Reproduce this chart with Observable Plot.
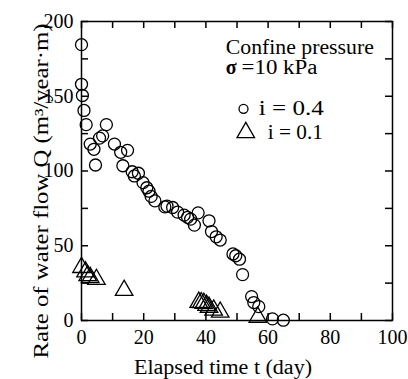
<!DOCTYPE html>
<html>
<head>
<meta charset="utf-8">
<script src="https://cdn.jsdelivr.net/npm/d3@7"></script>
<script src="https://cdn.jsdelivr.net/npm/@observablehq/plot@0.6"></script>
<style>
  html, body { margin: 0; padding: 0; background: white; }
</style>
</head>
<body>
<div id="chart"></div>
<script>
// i = 0.4 (circles)
const dayHigh = [0, 0, 0.3, 0.8, 1.5, 2.8, 4, 4.5, 5.8, 6.8, 8, 10.6, 12.6, 14.8, 13.3, 16.3, 17, 18.3, 19.8, 21, 21.7, 22.4, 23.6, 26.8, 27.5, 29.3, 30.9, 33, 34.1, 35.1, 36.3, 37.5, 41, 41.8, 43.3, 44.6, 48.7, 49.6, 50.8, 51.8, 54.7, 55.4, 57, 61.4, 64.9];
const flowHigh = [184.5, 158, 150.5, 140.5, 131, 118, 114.5, 104, 122, 123.5, 131, 118, 112.5, 113.8, 103.5, 99.5, 96.7, 98.5, 92.2, 88.8, 86.5, 83, 80, 76, 76.5, 75.6, 72.5, 70.5, 69, 67.8, 63.8, 72, 66.7, 59.5, 56, 53.8, 44.5, 43.3, 41, 30.7, 16, 12, 9.3, 1.1, 0.2];

// i = 0.1 (triangles)
const dayLow = [0, 1.3, 2, 2.8, 4.8, 13.7, 37.7, 38.5, 39.3, 40.2, 41, 42.5, 44.6, 56.7];
const flowLow = [35.5, 32.5, 30, 28.8, 27.5, 20.2, 12.2, 12, 11.5, 10.2, 8.9, 7, 5.6, 2.2];

const xLabelTicks = [0, 20, 40, 60, 80, 100];
const xMinorTicks = [0, 10, 20, 30, 40, 50, 60, 70, 80, 90, 100];
const yLabelTicks = [0, 50, 100, 150, 200];
const yMinorTicks = [0, 25, 50, 75, 100, 125, 150, 175, 200];

const xTitle = "Elapsed time t (day)";
const yTitle = "Rate of water flow Q (m³/year·m)";
const legendTitle = "Confine pressure";
const legendSigma = "σ";
const legendPressure = "=10 kPa";
const seriesNames = ["i = 0.4", "i = 0.1"];

const high = dayHigh.map((d, i) => ({day: d, flow: flowHigh[i]}));
const low = dayLow.map((d, i) => ({day: d, flow: flowLow[i]}));

const FONT = "'Liberation Serif', 'Times New Roman', Times, serif";
const FS = 20;
const W = 408, H = 379, ML = 81, MR = 16, MT = 21, MB = 59;
const innerW = W - ML - MR, innerH = H - MT - MB;
const TICK = 7;
const X0 = 0, X1 = 100, Y0 = 0, Y1 = 200;
// tick length expressed in data units of each scale
const tx = (X1 - X0) * TICK / innerW;
const ty = (Y1 - Y0) * TICK / innerH;

const chart = Plot.plot({
  width: W,
  height: H,
  marginLeft: ML,
  marginRight: MR,
  marginTop: MT,
  marginBottom: MB,
  x: {domain: [X0, X1]},
  y: {domain: [Y0, Y1]},
  style: {fontFamily: FONT, fontSize: FS + "px", background: "white", color: "black", overflow: "visible"},
  marks: [
    Plot.frame({stroke: "black", strokeWidth: 1.5}),
    // tick labels
    Plot.axisX({anchor: "bottom", ticks: xLabelTicks, tickSize: 0, tickPadding: 9, label: null, fontSize: FS}),
    Plot.axisY({anchor: "left", ticks: yLabelTicks, tickSize: 0, tickPadding: 8, label: null, fontSize: FS}),
    // axis titles
    Plot.text([xTitle], {frameAnchor: "bottom", lineAnchor: "middle", textAnchor: "middle", dx: -14, dy: 46.6, fontSize: FS}),
    Plot.text([yTitle], {frameAnchor: "left", rotate: -90, lineAnchor: "middle", textAnchor: "middle", dx: -40, dy: 20, fontSize: FS}),
    // data
    Plot.dot(high, {x: "day", y: "flow", r: 6, stroke: "black", fill: "none", strokeWidth: 1.3}),
    Plot.dot(low, {x: "day", y: "flow", r: 6.5, symbol: "triangle", stroke: "black", fill: "none", strokeWidth: 1.3}),
    // legend / annotation
    Plot.text([legendTitle], {frameAnchor: "top-left", textAnchor: "start", lineAnchor: "middle", dx: 144.3, dy: 25.9, fontSize: FS}),
    Plot.text([legendSigma], {frameAnchor: "top-left", textAnchor: "start", lineAnchor: "middle", dx: 144.3, dy: 45.9, fontSize: FS, fontWeight: "bold"}),
    Plot.text([legendPressure], {frameAnchor: "top-left", textAnchor: "start", lineAnchor: "middle", dx: 160, dy: 45.9, fontSize: FS}),
    Plot.dot([0], {frameAnchor: "top-left", dx: 162, dy: 87.3, r: 4.5, stroke: "black", fill: "none", strokeWidth: 1.3}),
    Plot.text([seriesNames[0]], {frameAnchor: "top-left", textAnchor: "start", lineAnchor: "middle", dx: 177.3, dy: 87.3, fontSize: FS}),
    Plot.dot([0], {frameAnchor: "top-left", dx: 164.3, dy: 111, r: 6.5, symbol: "triangle", stroke: "black", fill: "none", strokeWidth: 1.3}),
    Plot.text([seriesNames[1]], {frameAnchor: "top-left", textAnchor: "start", lineAnchor: "middle", dx: 186.3, dy: 110.9, fontSize: FS}),
    // inward ticks on all four sides (drawn last, on top)
    Plot.ruleX(xMinorTicks, {x: d => d, y1: Y0, y2: Y0 + ty, stroke: "black", strokeWidth: 1.5}),
    Plot.ruleX(xMinorTicks, {x: d => d, y1: Y1 - ty, y2: Y1, stroke: "black", strokeWidth: 1.5}),
    Plot.ruleY(yMinorTicks, {y: d => d, x1: X0, x2: X0 + tx, stroke: "black", strokeWidth: 1.5}),
    Plot.ruleY(yMinorTicks, {y: d => d, x1: X1 - tx, x2: X1, stroke: "black", strokeWidth: 1.5})
  ]
});

// stretch the wide text runs to the widths seen in the reference
const textWidths = new Map([
  [xTitle, 178],
  [yTitle, 335],
  [legendTitle, 148],
  [legendPressure, 76],
  [seriesNames[0], 65],
  [seriesNames[1], 55]
]);
d3.select(chart).selectAll("text").each(function () {
  const w = textWidths.get(this.textContent);
  if (w) {
    this.setAttribute("textLength", w);
    this.setAttribute("lengthAdjust", "spacingAndGlyphs");
  }
});
document.getElementById("chart").appendChild(chart);
</script>
</body>
</html>
